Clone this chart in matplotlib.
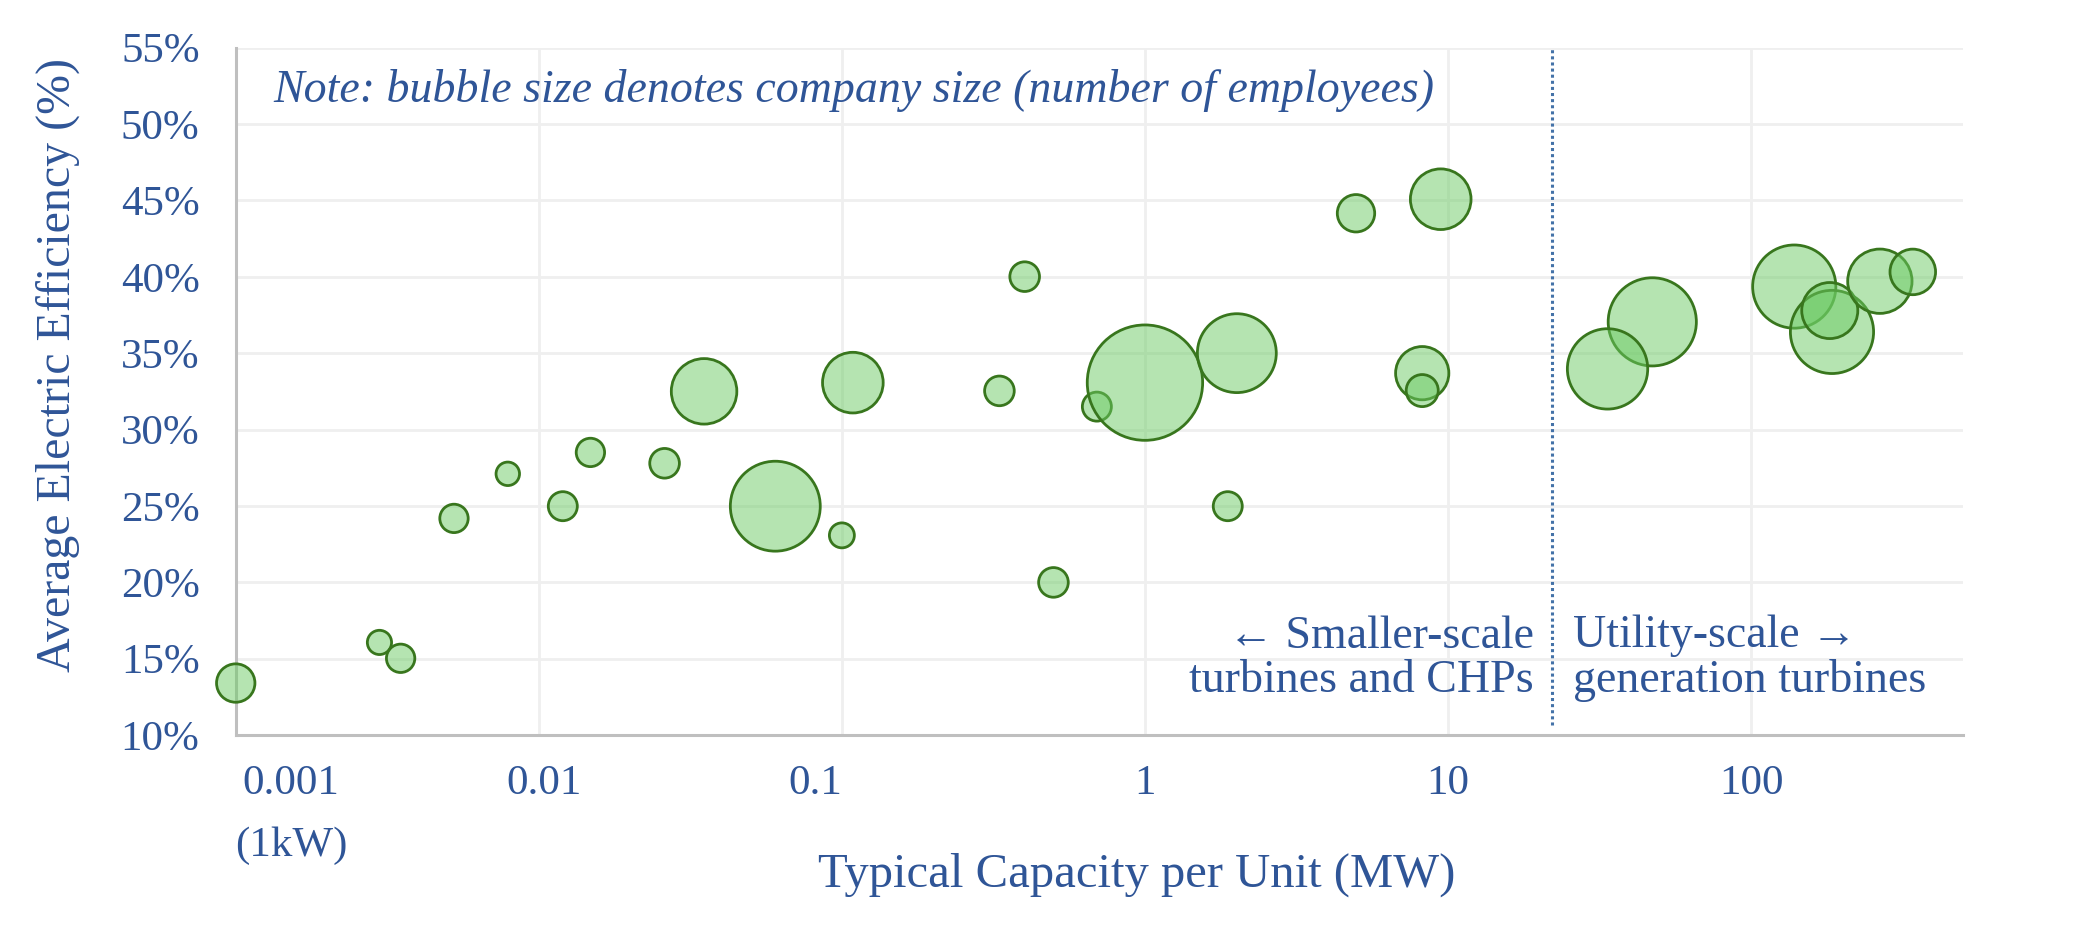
import numpy as np
import matplotlib.pyplot as plt

# Gas turbine makers: typical unit size (MW), average electric efficiency (%), company size
capacity_mw = [0.001, 0.00298, 0.0035, 0.00525, 0.0079, 0.012, 0.0148, 0.026,
               0.0351, 0.0603, 0.1, 0.1087, 0.331, 0.401, 0.499, 0.694, 1.0,
               2.01, 1.876, 4.97, 9.46, 8.22, 8.22, 47.2, 33.6, 138.8, 184.9,
               181.8, 266, 341.6]
efficiency_pct = [13.4, 16.06, 15.02, 24.18, 27.1, 24.98, 28.5, 27.79,
                  32.5, 24.98, 23.07, 33.07, 32.53, 40.01, 19.99, 31.5, 33.07,
                  35.0, 24.98, 44.16, 45.08, 33.69, 32.55, 37.05, 33.97, 39.36,
                  36.39, 37.79, 39.71, 40.32]
employees_k = [21, 9, 12, 12, 8.5, 12.5, 12, 13,
               58, 107, 9.5, 50, 13, 13, 13, 12.5, 174,
               83, 12.5, 20, 50, 39, 15, 103, 86, 92,
               92, 43, 56, 29]

x_ticks = [0.001, 0.01, 0.1, 1, 10, 100]
x_tick_labels = ['0.001', '0.01', '0.1', '1', '10', '100']
y_ticks = [10, 15, 20, 25, 30, 35, 40, 45, 50, 55]
divider_mw = 22

TXT = '#2F5597'
plt.rcParams['font.family'] = ['Liberation Serif', 'DejaVu Serif']

fig = plt.figure(figsize=(20.88, 9.43), dpi=100)
ax = fig.add_axes([0.1129, 0.2206, 0.8272, 0.7288])

# bubble area proportional to company size
r_px = np.sqrt(np.array(employees_k) * 20.0)
sizes = (2 * (r_px - 1.3) * 0.72) ** 2
ax.scatter(capacity_mw, efficiency_pct, s=sizes, facecolor=(0.424, 0.796, 0.392, 0.5),
           edgecolor='#38761D', linewidth=2.0, zorder=3, clip_on=False)

ax.set_xscale('log')
ax.set_xlim(0.001, 500)
ax.set_ylim(10, 55)

ax.set_xticks(x_ticks)
ax.xaxis.set_minor_locator(plt.NullLocator())
ax.tick_params(axis='x', which='both', length=0, labelbottom=False)
ax.set_yticks(y_ticks)
ax.set_yticklabels([f'{v}%' for v in y_ticks])
ax.tick_params(axis='y', length=0, pad=26, labelsize=31, labelcolor=TXT)

# x tick labels, nudged like the original
nudge = {0.001: 40, 0.01: 4, 0.1: -19}
for val, lab in zip(x_ticks, x_tick_labels):
    ax.annotate(lab, xy=(val, 0), xycoords=('data', 'axes fraction'),
                xytext=(nudge.get(val, 0), -35), textcoords='offset points',
                ha='center', va='center', fontsize=31, color=TXT)
ax.annotate('(1kW)', xy=(x_ticks[0], 0), xycoords=('data', 'axes fraction'),
            xytext=(nudge[0.001], -80), textcoords='offset points',
            ha='center', va='center', fontsize=31, color=TXT)

ax.grid(True, color='#EFEFEF', linewidth=2.0, zorder=0)
ax.set_axisbelow(True)
for side in ['top', 'right']:
    ax.spines[side].set_visible(False)
for side in ['left', 'bottom']:
    ax.spines[side].set_color('#BFBFBF')
    ax.spines[side].set_linewidth(2.2)

ax.axvline(divider_mw, ymin=0.015, ymax=1, color='#4472A8', linestyle=(0, (1, 1)),
           linewidth=2.2, zorder=2)

ax.set_xlabel('Typical Capacity per Unit (MW)', fontsize=35, color=TXT)
ax.xaxis.label.set_va('center')
ax.xaxis.set_label_coords(0.5218, -0.2037)
ax.set_ylabel('Average Electric Efficiency (%)', fontsize=34.5, color=TXT)
ax.yaxis.label.set_va('center')
ax.yaxis.set_label_coords(-0.103, 0.538)

ax.text(0.0216, 0.9380, 'Note: bubble size denotes company size (number of employees)',
        transform=ax.transAxes, va='center', ha='left', style='italic',
        fontsize=33, color=TXT)

ax.annotate('\u2190 Smaller-scale\nturbines and CHPs', xy=(divider_mw, 15.0),
            xytext=(-13, 0), textcoords='offset points', ha='right', va='center',
            fontsize=33, color=TXT, linespacing=1.06)
ax.annotate('Utility-scale \u2192\ngeneration turbines', xy=(divider_mw, 15.0),
            xytext=(15, 0), textcoords='offset points', ha='left', va='center',
            fontsize=33, color=TXT, linespacing=1.06)

fig.savefig('out.png', dpi=100)
